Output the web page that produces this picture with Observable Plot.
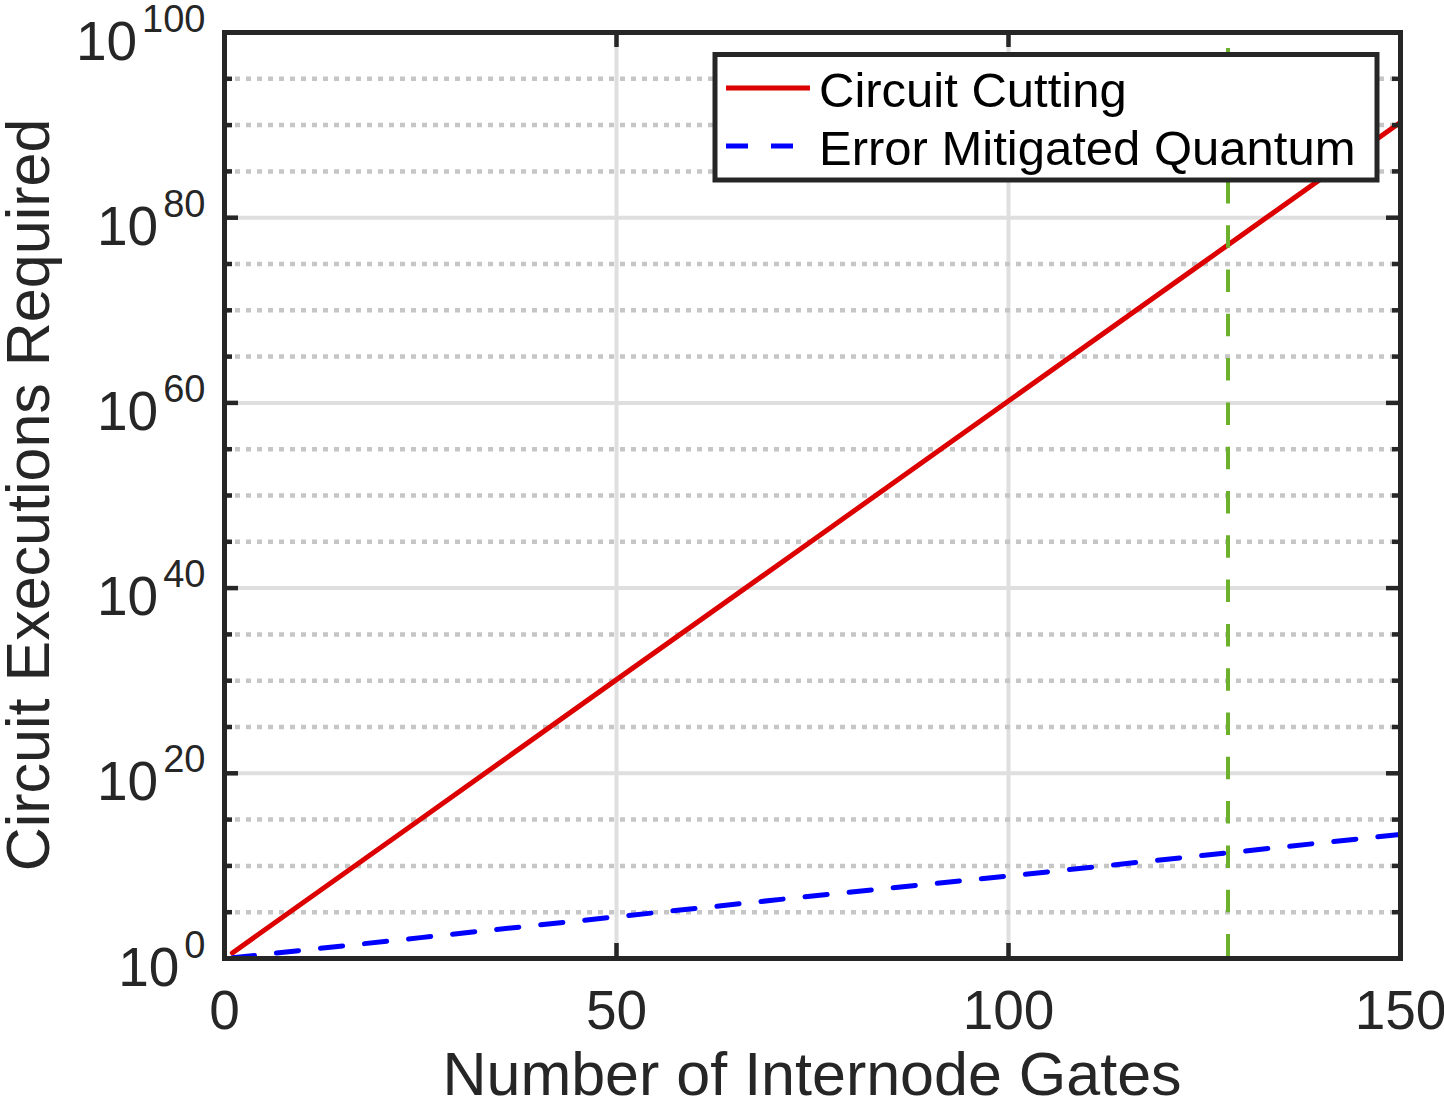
<!DOCTYPE html>
<html>
<head>
<meta charset="utf-8">
<script src="https://cdn.jsdelivr.net/npm/d3@7"></script>
<script src="https://cdn.jsdelivr.net/npm/@observablehq/plot@0.6"></script>
<style>
  html, body { margin: 0; padding: 0; background: #fff; }
  #chart { position: relative; width: 1444px; height: 1100px; }
</style>
</head>
<body>
<div id="chart"></div>
<script>
// ---- data ----
const gates = [1, 25, 50, 75, 100, 125, 150];
const circuitCutting = [4, 1.1e15, 1.3e30, 1.4e45, 1.6e60, 1.8e75, 2.0e90];
const errorMitigated = [1.2, 1.8e2, 3.2e4, 5.6e6, 8.0e8, 1.4e11, 2.5e13];
const thresholdGate = [128];
const seriesNames = ["Circuit Cutting", "Error Mitigated Quantum"];
const xTickValues = [0, 50, 100, 150];
const xGridValues = [50, 100];
const yMajorTicks = [1e0, 1e20, 1e40, 1e60, 1e80, 1e100];
const yMinorTicks = [1e5, 1e10, 1e15, 1e25, 1e30, 1e35, 1e45, 1e50, 1e55, 1e65, 1e70, 1e75, 1e85, 1e90, 1e95];
const xLabel = "Number of Internode Gates";
const yLabel = "Circuit Executions Required";

// ---- styling ----
const W = 1444, H = 1100;
const mL = 224, mR = 44, mT = 32, mB = 142;
const plotW = W - mL - mR, plotH = H - mT - mB;
const axisColor = "#262626";
const font = "'Liberation Sans', Arial, Helvetica, sans-serif";
const redColor = "#dc0000", blueColor = "#0000ff", greenColor = "#6cb02c";

const cutData = gates.map((g, i) => ({gates: g, value: circuitCutting[i]}));
const emqData = gates.map((g, i) => ({gates: g, value: errorMitigated[i]}));

const chart = Plot.plot({
  width: W, height: H,
  marginLeft: mL, marginRight: mR, marginTop: mT, marginBottom: mB,
  style: {fontFamily: font, color: axisColor, background: "#fff", overflow: "visible"},
  x: {domain: [0, 150]},
  y: {type: "log", domain: [1, 1e100]},
  marks: [
    Plot.ruleY(yMajorTicks, {stroke: "#dfdfdf", strokeWidth: 4}),
    Plot.ruleX(xGridValues, {stroke: "#dfdfdf", strokeWidth: 4}),
    Plot.ruleY(yMinorTicks, {stroke: "#c6c6c6", strokeWidth: 4.5, strokeDasharray: "5,6"}),
    Plot.line(cutData, {x: "gates", y: "value", stroke: redColor, strokeWidth: 5}),
    Plot.line(emqData, {x: "gates", y: "value", stroke: blueColor, strokeWidth: 5, strokeDasharray: "22.3,22"}),
    Plot.ruleX(thresholdGate, {stroke: greenColor, strokeWidth: 4, strokeDasharray: "22.5,21.8", strokeDashoffset: 28.3}),
    // inward ticks, left & right
    Plot.tickY(yMajorTicks, {stroke: axisColor, strokeWidth: 4.5, insetRight: plotW - 14}),
    Plot.tickY(yMinorTicks, {stroke: axisColor, strokeWidth: 4.5, insetRight: plotW - 8}),
    Plot.tickY(yMajorTicks, {stroke: axisColor, strokeWidth: 4.5, insetLeft: plotW - 14}),
    Plot.tickY(yMinorTicks, {stroke: axisColor, strokeWidth: 4.5, insetLeft: plotW - 8}),
    // inward ticks, bottom & top
    Plot.tickX(xTickValues, {stroke: axisColor, strokeWidth: 4.5, insetTop: plotH - 15}),
    Plot.tickX(xTickValues, {stroke: axisColor, strokeWidth: 4.5, insetBottom: plotH - 15}),
    Plot.frame({stroke: axisColor, strokeWidth: 5}),
    Plot.axisX({ticks: xTickValues, tickSize: 0, tickPadding: 31, fontSize: 55, label: null, tickFormat: d => String(d)}),
    Plot.axisY({ticks: yMajorTicks, tickSize: 0, tickPadding: 19, fontSize: 55, label: null,
                tickFormat: d => String(Math.round(Math.log10(d)))})
  ]
});
document.getElementById("chart").appendChild(chart);

const svg = d3.select(chart);

// y tick labels as 10^n with real superscripts
svg.selectAll('g[aria-label="y-axis tick label"] text').each(function () {
  const t = d3.select(this);
  const e = t.text();
  t.text(null).attr("y", 27);
  t.append("tspan").text("10");
  t.append("tspan").attr("font-size", 38).attr("dx", 5).attr("dy", -28).text(e);
});

// axis titles
svg.append("text")
  .attr("x", mL + plotW / 2).attr("y", 1095)
  .attr("text-anchor", "middle").attr("font-size", 61).attr("fill", axisColor)
  .attr("font-family", font).text(xLabel);
svg.append("text")
  .attr("transform", `translate(49,${mT + plotH / 2}) rotate(-90)`)
  .attr("text-anchor", "middle").attr("font-size", 61).attr("fill", axisColor)
  .attr("font-family", font).text(yLabel);

// legend
const lg = svg.append("g").attr("font-family", font).attr("text-anchor", "start");
lg.append("rect").attr("x", 715).attr("y", 54.5).attr("width", 662).attr("height", 125.5)
  .attr("fill", "#fff").attr("stroke", axisColor).attr("stroke-width", 5);
lg.append("line").attr("x1", 726).attr("x2", 810).attr("y1", 88).attr("y2", 88)
  .attr("stroke", redColor).attr("stroke-width", 5);
lg.append("line").attr("x1", 726).attr("x2", 793).attr("y1", 146).attr("y2", 146)
  .attr("stroke", blueColor).attr("stroke-width", 5).attr("stroke-dasharray", "22,23");
lg.append("text").attr("x", 819).attr("y", 107).attr("font-size", 49).attr("fill", "#000")
  .attr("text-anchor", "start").text(seriesNames[0]);
lg.append("text").attr("x", 819).attr("y", 165).attr("font-size", 49).attr("fill", "#000")
  .attr("text-anchor", "start").text(seriesNames[1]);
</script>
</body>
</html>
